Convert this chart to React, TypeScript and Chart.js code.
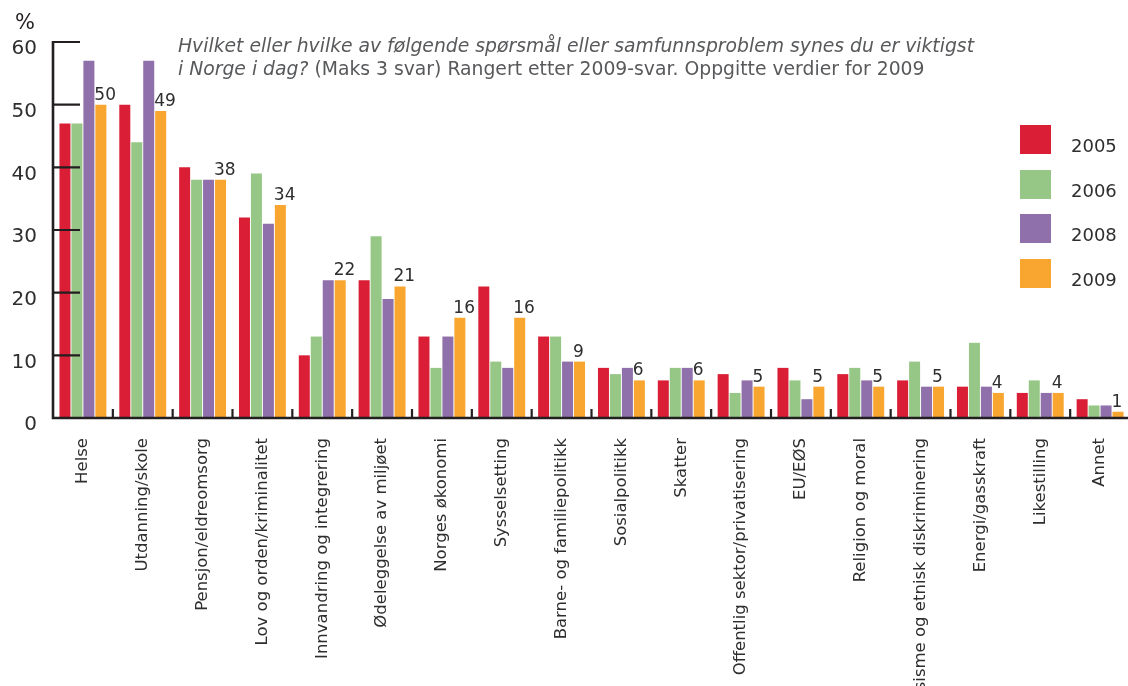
import React, { useEffect, useRef } from "react";
import { Chart, registerables } from "chart.js";

Chart.register(...registerables);

const categories = [
  "Helse",
  "Utdanning/skole",
  "Pensjon/eldreomsorg",
  "Lov og orden/kriminalitet",
  "Innvandring og integrering",
  "Ødeleggelse av miljøet",
  "Norges økonomi",
  "Sysselsetting",
  "Barne- og familiepolitikk",
  "Sosialpolitikk",
  "Skatter",
  "Offentlig sektor/privatisering",
  "EU/EØS",
  "Religion og moral",
  "Rasisme og etnisk diskriminering",
  "Energi/gasskraft",
  "Likestilling",
  "Annet",
];
const values2005 = [47, 50, 40, 32, 10, 22, 13, 21, 13, 8, 6, 7, 8, 7, 6, 5, 4, 3];
const values2006 = [47, 44, 38, 39, 13, 29, 8, 9, 13, 7, 8, 4, 6, 8, 9, 12, 6, 2];
const values2008 = [57, 57, 38, 31, 22, 19, 13, 8, 9, 8, 8, 6, 3, 6, 5, 5, 4, 2];
const values2009 = [50, 49, 38, 34, 22, 21, 16, 16, 9, 6, 6, 5, 5, 5, 5, 4, 4, 1];
const seriesLabels = ["2005", "2006", "2008", "2009"];
const seriesValues = [values2005, values2006, values2008, values2009];
const seriesColors = ["#D91E36", "#97C786", "#8F70AA", "#F9A630"];
const yMin = 0;
const yMax = 60;
const yStep = 10;
const unitLabel = "%";
const titleItalic1 = "Hvilket eller hvilke av følgende spørsmål eller samfunnsproblem synes du er viktigst";
const titleItalic2 = "i Norge i dag?";
const titleNormal2 = " (Maks 3 svar) Rangert etter 2009-svar. Oppgitte verdier for 2009";

const FONT = "'DejaVu Sans', Verdana, sans-serif";
const AXIS_COLOR = "#231F20";
const TEXT_COLOR = "#2E2E2E";

function drawAxes(chart: any) {
  const { ctx, chartArea } = chart;
  const x = chart.scales.x;
  const y = chart.scales.y;
  const left = chartArea.left;
  const bottom = chartArea.bottom;
  const right = chartArea.right;
  ctx.save();
  ctx.strokeStyle = AXIS_COLOR;
  ctx.lineCap = "butt";
  ctx.lineWidth = 2.2;
  ctx.beginPath();
  y.ticks.forEach((t: any) => {
    const py = y.getPixelForValue(t.value);
    ctx.moveTo(left, py);
    ctx.lineTo(left + 27, py);
  });
  ctx.stroke();
  const n = categories.length;
  ctx.beginPath();
  for (let i = 1; i <= n; i++) {
    const px = x.getPixelForValue(i - 0.5);
    ctx.moveTo(px, bottom);
    ctx.lineTo(px, bottom - 9);
  }
  ctx.stroke();
  ctx.lineWidth = 2.6;
  ctx.beginPath();
  ctx.moveTo(left, y.getPixelForValue(yMax) - 1);
  ctx.lineTo(left, bottom);
  ctx.lineTo(right, bottom);
  ctx.stroke();
  ctx.restore();
}

const decorPlugin = {
  id: "decor",
  afterDatasetDraw(chart: any, args: any) {
    if (args.index === 0) drawAxes(chart);
  },
  afterDatasetsDraw(chart: any) {
    const { ctx } = chart;
    ctx.save();
    const meta = chart.getDatasetMeta(3);
    ctx.fillStyle = TEXT_COLOR;
    ctx.font = `17px ${FONT}`;
    ctx.textAlign = "left";
    ctx.textBaseline = "alphabetic";
    meta.data.forEach((bar: any, i: number) => {
      const p = bar.getProps(["x", "y", "width"], true);
      ctx.fillText(String(values2009[i]), p.x - p.width / 2 - 1, p.y - 5);
    });
    ctx.fillStyle = AXIS_COLOR;
    ctx.font = `21px ${FONT}`;
    ctx.fillText(unitLabel, 15, 29);
    ctx.fillStyle = "#58595B";
    ctx.font = `italic 18.8px ${FONT}`;
    ctx.fillText(titleItalic1, 178, 52);
    ctx.fillText(titleItalic2, 178, 75);
    const w = ctx.measureText(titleItalic2).width;
    ctx.font = `18.8px ${FONT}`;
    ctx.fillText(titleNormal2, 178 + w, 75);
    const legendTops = [125, 170, 214, 259];
    seriesLabels.forEach((lab, i) => {
      ctx.fillStyle = seriesColors[i];
      ctx.fillRect(1020, legendTops[i], 31, 29);
      ctx.fillStyle = TEXT_COLOR;
      ctx.font = `18px ${FONT}`;
      ctx.fillText(lab, 1071, legendTops[i] + 27);
    });
    ctx.restore();
  },
};

export default function App() {
  const ref = useRef<HTMLCanvasElement | null>(null);
  useEffect(() => {
    if (!ref.current) return;
    const chart = new Chart(ref.current, {
      type: "bar",
      data: {
        labels: categories,
        datasets: seriesLabels.map((lab, i) => ({
          label: lab,
          data: seriesValues[i],
          backgroundColor: seriesColors[i],
          borderWidth: 0,
          categoryPercentage: 0.8,
          barPercentage: 0.92,
        })),
      },
      options: {
        responsive: false,
        animation: false,
        devicePixelRatio: 1,
        layout: { padding: { top: 42, left: 0, right: 0, bottom: 0 } },
        plugins: {
          legend: { display: false },
          tooltip: { enabled: false },
          title: { display: false },
        },
        scales: {
          x: {
            grid: { display: false, drawTicks: false },
            border: { display: false },
            ticks: {
              autoSkip: false,
              minRotation: 90,
              maxRotation: 90,
              padding: 20,
              color: TEXT_COLOR,
              font: { family: FONT, size: 16.5 },
            },
            afterFit: (s: any) => {
              s.height = 268;
              s.paddingLeft = 0;
              s.paddingRight = 0;
            },
          },
          y: {
            min: yMin,
            max: yMax,
            grid: { display: false, drawTicks: false },
            border: { display: false },
            ticks: {
              stepSize: yStep,
              padding: 16,
              labelOffset: 7,
              color: TEXT_COLOR,
              font: { family: FONT, size: 20 },
            },
            afterFit: (s: any) => {
              s.width = 53;
              s.paddingTop = 0;
              s.paddingBottom = 0;
            },
          },
        },
      },
      plugins: [decorPlugin],
    });
    return () => chart.destroy();
  }, []);
  return (
    <div
      style={{
        position: "fixed",
        left: 0,
        top: 0,
        width: 1128,
        height: 686,
        overflow: "hidden",
        background: "#ffffff",
      }}
    >
      <canvas ref={ref} width={1130} height={686} style={{ display: "block", width: 1130, height: 686 }} />
    </div>
  );
}
